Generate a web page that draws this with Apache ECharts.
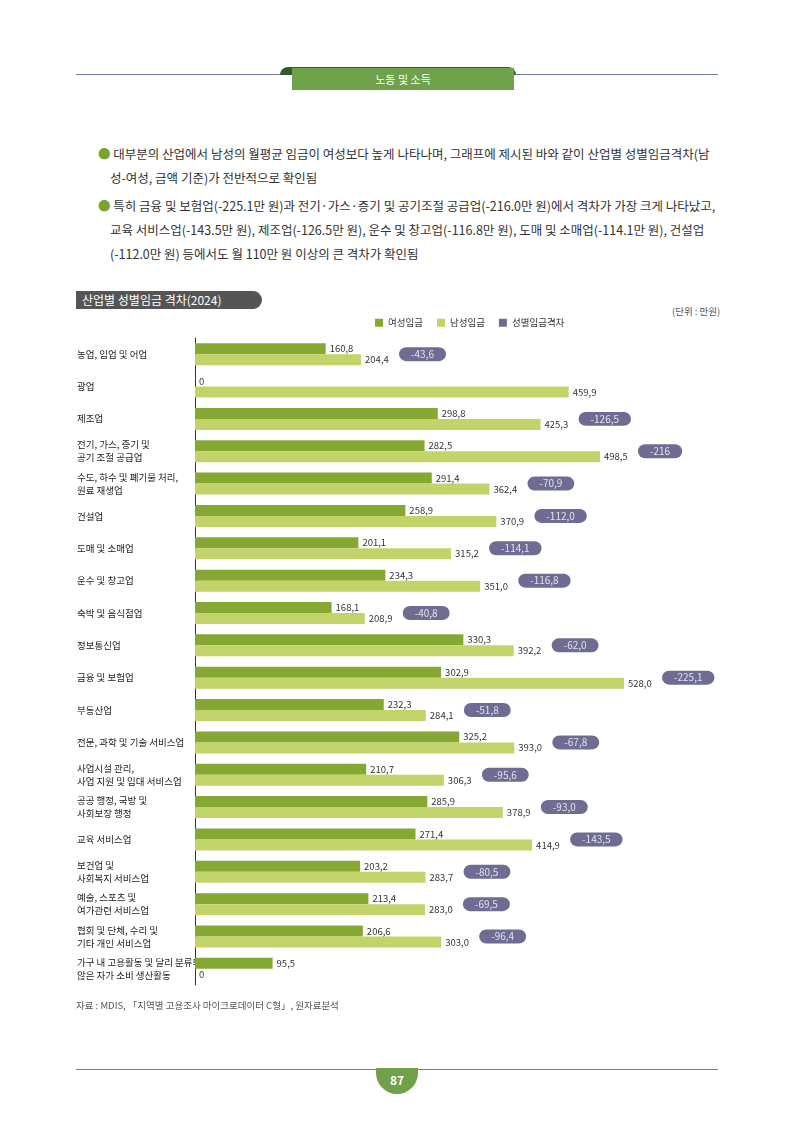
<!DOCTYPE html>
<html><head><meta charset="utf-8">
<script src="https://cdn.jsdelivr.net/npm/echarts@6/dist/echarts.min.js"></script>
<style>
body{margin:0;width:794px;height:1123px;position:relative;background:#fff;font-family:"Noto Sans CJK KR","Noto Sans",sans-serif;color:#333}
.abs{position:absolute}
</style></head><body>
<div class="abs" style="left:76px;top:74px;width:642px;height:1px;background:#6f7f9a"></div>
<div class="abs" style="left:280px;top:67px;width:236px;height:8px;border-radius:8px 8px 0 0;background:#2f5c2a"></div>
<div class="abs" style="left:292px;top:68px;width:222px;height:22px;background:#6fa04a;color:#fff;font-size:11px;text-align:center;line-height:22px">노동 및 소득</div>
<div class="abs" style="left:98px;top:142px;width:625px;font-size:12.5px;line-height:24px;color:#333">
<div style="text-indent:-12px;padding-left:12px"><span style="color:#7aa22f">●</span> 대부분의 산업에서 남성의 월평균 임금이 여성보다 높게 나타나며, 그래프에 제시된 바와 같이 산업별 성별임금격차(남성-여성, 금액 기준)가 전반적으로 확인됨</div>
<div style="text-indent:-12px;padding-left:12px;margin-top:4px"><span style="color:#7aa22f">●</span> 특히 금융 및 보험업(-225.1만 원)과 전기·가스·증기 및 공기조절 공급업(-216.0만 원)에서 격차가 가장 크게 나타났고, 교육 서비스업(-143.5만 원), 제조업(-126.5만 원), 운수 및 창고업(-116.8만 원), 도매 및 소매업(-114.1만 원), 건설업(-112.0만 원) 등에서도 월 110만 원 이상의 큰 격차가 확인됨</div>
</div>
<div class="abs" style="left:76px;top:291px;width:186px;height:18px;background:#555;border-radius:0 10px 10px 0;color:#fff;font-size:12px;line-height:18px;text-indent:6px">산업별 성별임금 격차(2024)</div>
<div class="abs" style="left:672px;top:304px;font-size:9.5px;color:#555">(단위 : 만원)</div>
<div id="chart" class="abs" style="left:0;top:305px;width:794px;height:700px"></div>
<div class="abs" style="left:76px;top:998px;font-size:9.5px;color:#555">자료 : MDIS, 「지역별 고용조사 마이크로데이터 C형」, 원자료분석</div>
<div class="abs" style="left:76px;top:1069px;width:642px;height:1px;background:#6f7f9a"></div>
<div class="abs" style="left:376px;top:1068px;width:42px;height:26px;border-radius:0 0 21px 21px;background:#6fa04a;color:#fff;font-size:12px;font-weight:bold;text-align:center;line-height:24px">87</div>
<script>
const categories=['농업, 임업 및 어업','광업','제조업','전기, 가스, 증기 및\n공기 조절 공급업','수도, 하수 및 폐기물 처리,\n원료 재생업','건설업','도매 및 소매업','운수 및 창고업','숙박 및 음식점업','정보통신업','금융 및 보험업','부동산업','전문, 과학 및 기술 서비스업','사업시설 관리,\n사업 지원 및 임대 서비스업','공공 행정, 국방 및\n사회보장 행정','교육 서비스업','보건업 및\n사회복지 서비스업','예술, 스포츠 및\n여가관련 서비스업','협회 및 단체, 수리 및\n기타 개인 서비스업','가구 내 고용활동 및 달리 분류되지\n않은 자가 소비 생산활동'];
const female=[160.8,0,298.8,282.5,291.4,258.9,201.1,234.3,168.1,330.3,302.9,232.3,325.2,210.7,285.9,271.4,203.2,213.4,206.6,95.5];
const male=[204.4,459.9,425.3,498.5,362.4,370.9,315.2,351.0,208.9,392.2,528.0,284.1,393.0,306.3,378.9,414.9,283.7,283.0,303.0,0];
const gap=['-43.6','','-126.5','-216','-70.9','-112.0','-114.1','-116.8','-40.8','-62.0','-225.1','-51.8','-67.8','-95.6','-93.0','-143.5','-80.5','-69.5','-96.4',''];
const fmt=v=>v.toFixed(1).replace('.',',');
const chart=echarts.init(document.getElementById('chart'));
const lbl={show:true,position:'right',fontSize:9.5,color:'#333',distance:4,formatter:p=>p.value===0?'0':fmt(p.value)};
chart.setOption({
 animation:false,
 textStyle:{fontFamily:'"Noto Sans CJK KR",sans-serif'},
 legend:{top:8,left:370,itemWidth:8,itemHeight:8,itemGap:14,textStyle:{fontSize:9.5,color:'#333'},
  data:[{name:'여성임금',icon:'rect'},{name:'남성임금',icon:'rect'},{name:'성별임금격차',icon:'rect'}]},
 grid:{left:195,top:33,width:520,bottom:20},
 xAxis:{type:'value',min:0,max:640,show:false},
 yAxis:{type:'category',inverse:true,data:categories,axisTick:{show:false},
  axisLine:{lineStyle:{color:'#333'}},
  axisLabel:{align:'left',margin:118,fontSize:9.5,color:'#222',lineHeight:13}},
 series:[
  {name:'여성임금',type:'bar',data:female,barWidth:11,barGap:'0%',itemStyle:{color:'#84a832'},label:lbl},
  {name:'남성임금',type:'bar',data:male,barWidth:11,itemStyle:{color:'#c2d36a'},label:lbl},
  {name:'성별임금격차',type:'scatter',symbolSize:0.01,itemStyle:{color:'#4a4778'},
   data:male.map((v,i)=>({value:[v,i],g:gap[i]})),
   label:{show:true,position:'right',distance:38,formatter:p=>p.data.g?p.data.g.replace('.',','):'',
    backgroundColor:'#4a4778',borderRadius:9,padding:[2,12],color:'#fff',fontSize:10}}
 ]
});
// hide empty pills
chart.setOption({series:[{},{},{data:male.map((v,i)=>gap[i]?{value:[v,i],g:gap[i]}:{value:[v,i],g:'',label:{show:false}})}]});
</script>
</body></html>
